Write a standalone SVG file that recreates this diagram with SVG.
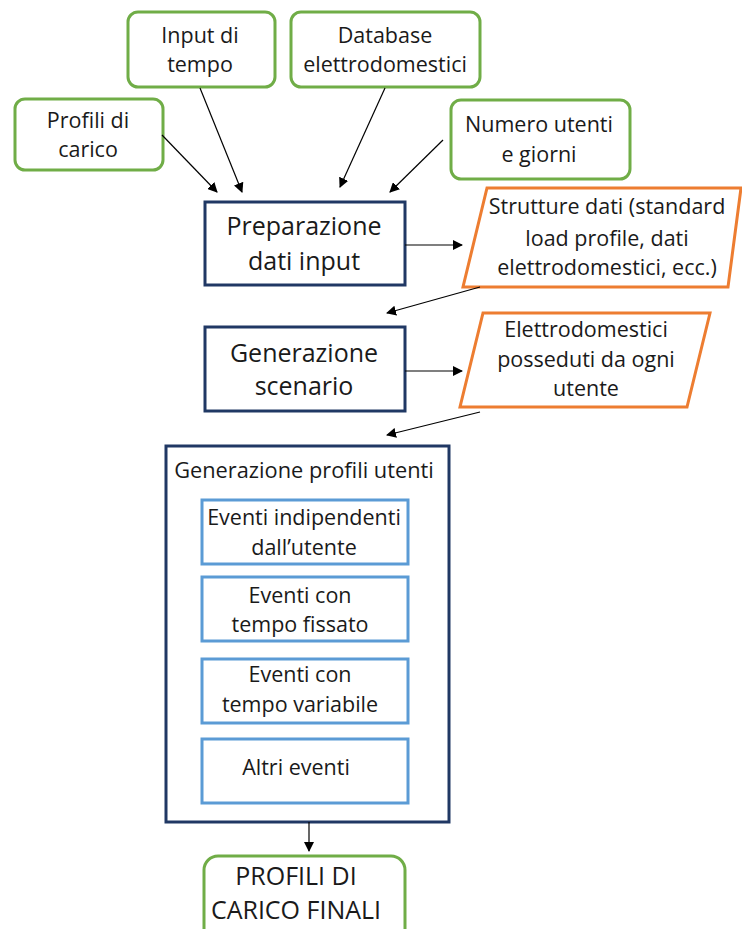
<svg xmlns="http://www.w3.org/2000/svg" width="742" height="929" viewBox="0 0 742 929">
<defs>
<style>
text{font-family:"Open Sans","Liberation Sans",sans-serif;fill:#1a1a1a;text-anchor:middle}
.s{font-size:21.5px}
.t{font-size:21.8px}
.l{font-size:25px}
.g{fill:#fff;stroke:#70AD47;stroke-width:3}
.o{fill:#fff;stroke:#ED7D31;stroke-width:3}
.d{fill:#fff;stroke:#203864;stroke-width:3}
.b{fill:#fff;stroke:#5B9BD5;stroke-width:3}
.c{stroke:#000;stroke-width:1.2;fill:none;marker-end:url(#ah)}
</style>
<marker id="ah" viewBox="0 0 10 10" refX="9" refY="5" markerWidth="10" markerHeight="10" markerUnits="userSpaceOnUse" orient="auto"><path d="M0,0L10,5L0,10z" fill="#000"/></marker>
</defs>
<rect width="742" height="929" fill="#fff"/>
<g id="profili-carico"><rect class="g" x="15" y="99" width="148" height="71" rx="10"/><text class="s" x="88" y="128">Profili di</text><text class="s" x="88" y="157">carico</text></g>
<g id="input-tempo"><rect class="g" x="128" y="12" width="147" height="75" rx="10"/><text class="s" x="200" y="43">Input di</text><text class="s" x="200" y="72">tempo</text></g>
<g id="database"><rect class="g" x="291" y="12" width="189" height="75" rx="10"/><text class="s" x="385" y="43">Database</text><text class="s" x="385" y="72">elettrodomestici</text></g>
<g id="numero-utenti"><rect class="g" x="451" y="100" width="179" height="79" rx="10"/><text class="s" x="539" y="132">Numero utenti</text><text class="s" x="539" y="162">e giorni</text></g>
<g id="preparazione"><rect class="d" x="205" y="202" width="200" height="83"/><text class="l" x="304" y="235">Preparazione</text><text class="l" x="304" y="270">dati input</text></g>
<g id="strutture-dati"><polygon class="o" points="487,188 741,188 728,287 463,287"/><text class="s" x="607" y="214">Strutture dati (standard</text><text class="s" x="607" y="246">load profile, dati</text><text class="s" x="607" y="275">elettrodomestici, ecc.)</text></g>
<g id="generazione-scenario"><rect class="d" x="205" y="327" width="200" height="84"/><text class="l" x="304" y="362">Generazione</text><text class="l" x="304" y="395">scenario</text></g>
<g id="elettrodomestici"><polygon class="o" points="483,313 710,313 687,407 460,407"/><text class="s" x="586" y="337">Elettrodomestici</text><text class="s" x="586" y="367">posseduti da ogni</text><text class="s" x="586" y="396">utente</text></g>
<g id="generazione-profili"><rect class="d" x="166" y="446" width="283" height="376"/><text class="t" x="304" y="478">Generazione profili utenti</text></g>
<g id="eventi-indipendenti"><rect class="b" x="202" y="500" width="206" height="64"/><text class="s" x="304" y="525">Eventi indipendenti</text><text class="s" x="304" y="555">dall’utente</text></g>
<g id="eventi-fissato"><rect class="b" x="202" y="577" width="206" height="64"/><text class="s" x="300" y="603">Eventi con</text><text class="s" x="300" y="632">tempo fissato</text></g>
<g id="eventi-variabile"><rect class="b" x="202" y="659" width="206" height="64"/><text class="s" x="300" y="682">Eventi con</text><text class="s" x="300" y="712">tempo variabile</text></g>
<g id="altri-eventi"><rect class="b" x="202" y="739" width="206" height="64"/><text class="s" x="296" y="775">Altri eventi</text></g>
<g id="profili-finali"><rect class="g" x="204" y="856" width="201" height="90" rx="14"/><text class="l" x="296" y="885">PROFILI DI</text><text class="l" x="296" y="919">CARICO FINALI</text></g>
<g id="connectors">
<line class="c" x1="162" y1="135" x2="217" y2="192"/>
<line class="c" x1="200" y1="88" x2="242" y2="192"/>
<line class="c" x1="385" y1="88" x2="340" y2="187"/>
<line class="c" x1="443" y1="140" x2="390" y2="192"/>
<line class="c" x1="405" y1="245" x2="462" y2="245"/>
<line class="c" x1="480" y1="287" x2="387" y2="313"/>
<line class="c" x1="405" y1="371" x2="462" y2="371"/>
<line class="c" x1="480" y1="412" x2="387" y2="435"/>
<line class="c" x1="309" y1="822" x2="309" y2="851"/>
</g>
</svg>
